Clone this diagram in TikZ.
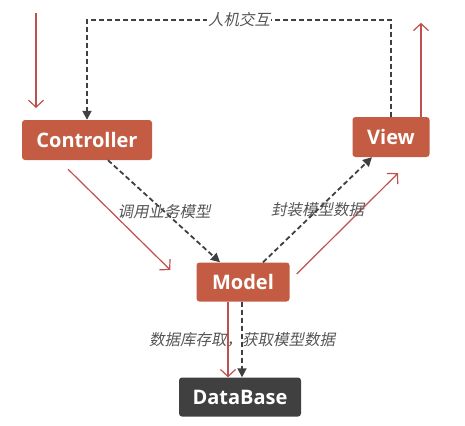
\documentclass[tikz,border=0pt]{standalone}
\usepackage{fontspec}
\usepackage{tikz}
\setsansfont{Open Sans}
\newfontfamily\cjk[FakeSlant=0.2]{Noto Sans CJK SC}
\usetikzlibrary{arrows.meta}
\usetikzlibrary{calc}
\definecolor{mbox}{RGB}{196, 92, 67}
\definecolor{mred}{RGB}{192, 80, 77}
\definecolor{mdark}{RGB}{64, 64, 64}
\definecolor{mtext}{RGB}{85, 85, 85}

\tikzset{
  box/.style={rounded corners=3pt, fill=mbox, text=white, inner sep=0pt,
    font=\sffamily\bfseries\fontsize{20}{24}\selectfont},
  flow/.style={mred, line width=1.2pt, -{Straight Barb[length=7pt, width=15pt]}},
  call/.style={mdark, line width=1.8pt, dash pattern=on 5pt off 3pt,
    -{Triangle[length=9pt, width=9pt]}},
  tag/.style={text=mtext, font=\cjk\fontsize{15.5}{18}\selectfont, inner sep=1pt}
}

\begin{document}
\begin{tikzpicture}[x=1pt, y=-1pt]
    \useasboundingbox (0, 0) rectangle (465, 425);

    \node [box, minimum width=130pt, minimum height=40pt] (Controller) at (87, 140) {Controller};
    \node [box, minimum width=77pt, minimum height=40pt] (View) at (391, 137) {View};
    \node [box, minimum width=93pt, minimum height=39pt] (Model) at (243, 282) {Model};
    \node [box, fill=mdark, minimum width=122pt, minimum height=39pt] (DataBase) at (240, 397) {DataBase};

    \coordinate (request) at (36, 13);
    \coordinate (response) at ($(View.north)+(30, 0)$);

    % user side
    \draw [flow] (request) -- ++(0, 95);
    \draw [flow] (response) -- ++(0, -94);
    \draw [call] (View.north) -- ++(0, -97) -| (Controller.north)
      node [tag, fill=white, pos=0.25] {人机交互};

    % controller / model / view
    \draw [flow] ($(Controller.south)+(-19, 9)$) -- ($(Model.west)+(-26, -12)$);
    \draw [call] ([xshift=21pt]Controller.south) -- ([xshift=-23pt]Model.north)
      node [tag, midway] {调用业务模型};
    \draw [flow] ($(Model.east)+(7, -8)$) -- ($(View.south)+(7, 16)$);
    \draw [call] ([xshift=20pt]Model.north) -- ([xshift=-19pt]View.south)
      node [tag, midway] {封装模型数据};

    % database
    \draw [flow] ([xshift=-15pt]Model.south) -- ([xshift=-12pt]DataBase.north);
    \draw [call] ([xshift=-1pt]Model.south) -- ([xshift=2pt]DataBase.north)
      node [tag, midway] {数据库存取，获取模型数据};
  \end{tikzpicture}
\end{document}
